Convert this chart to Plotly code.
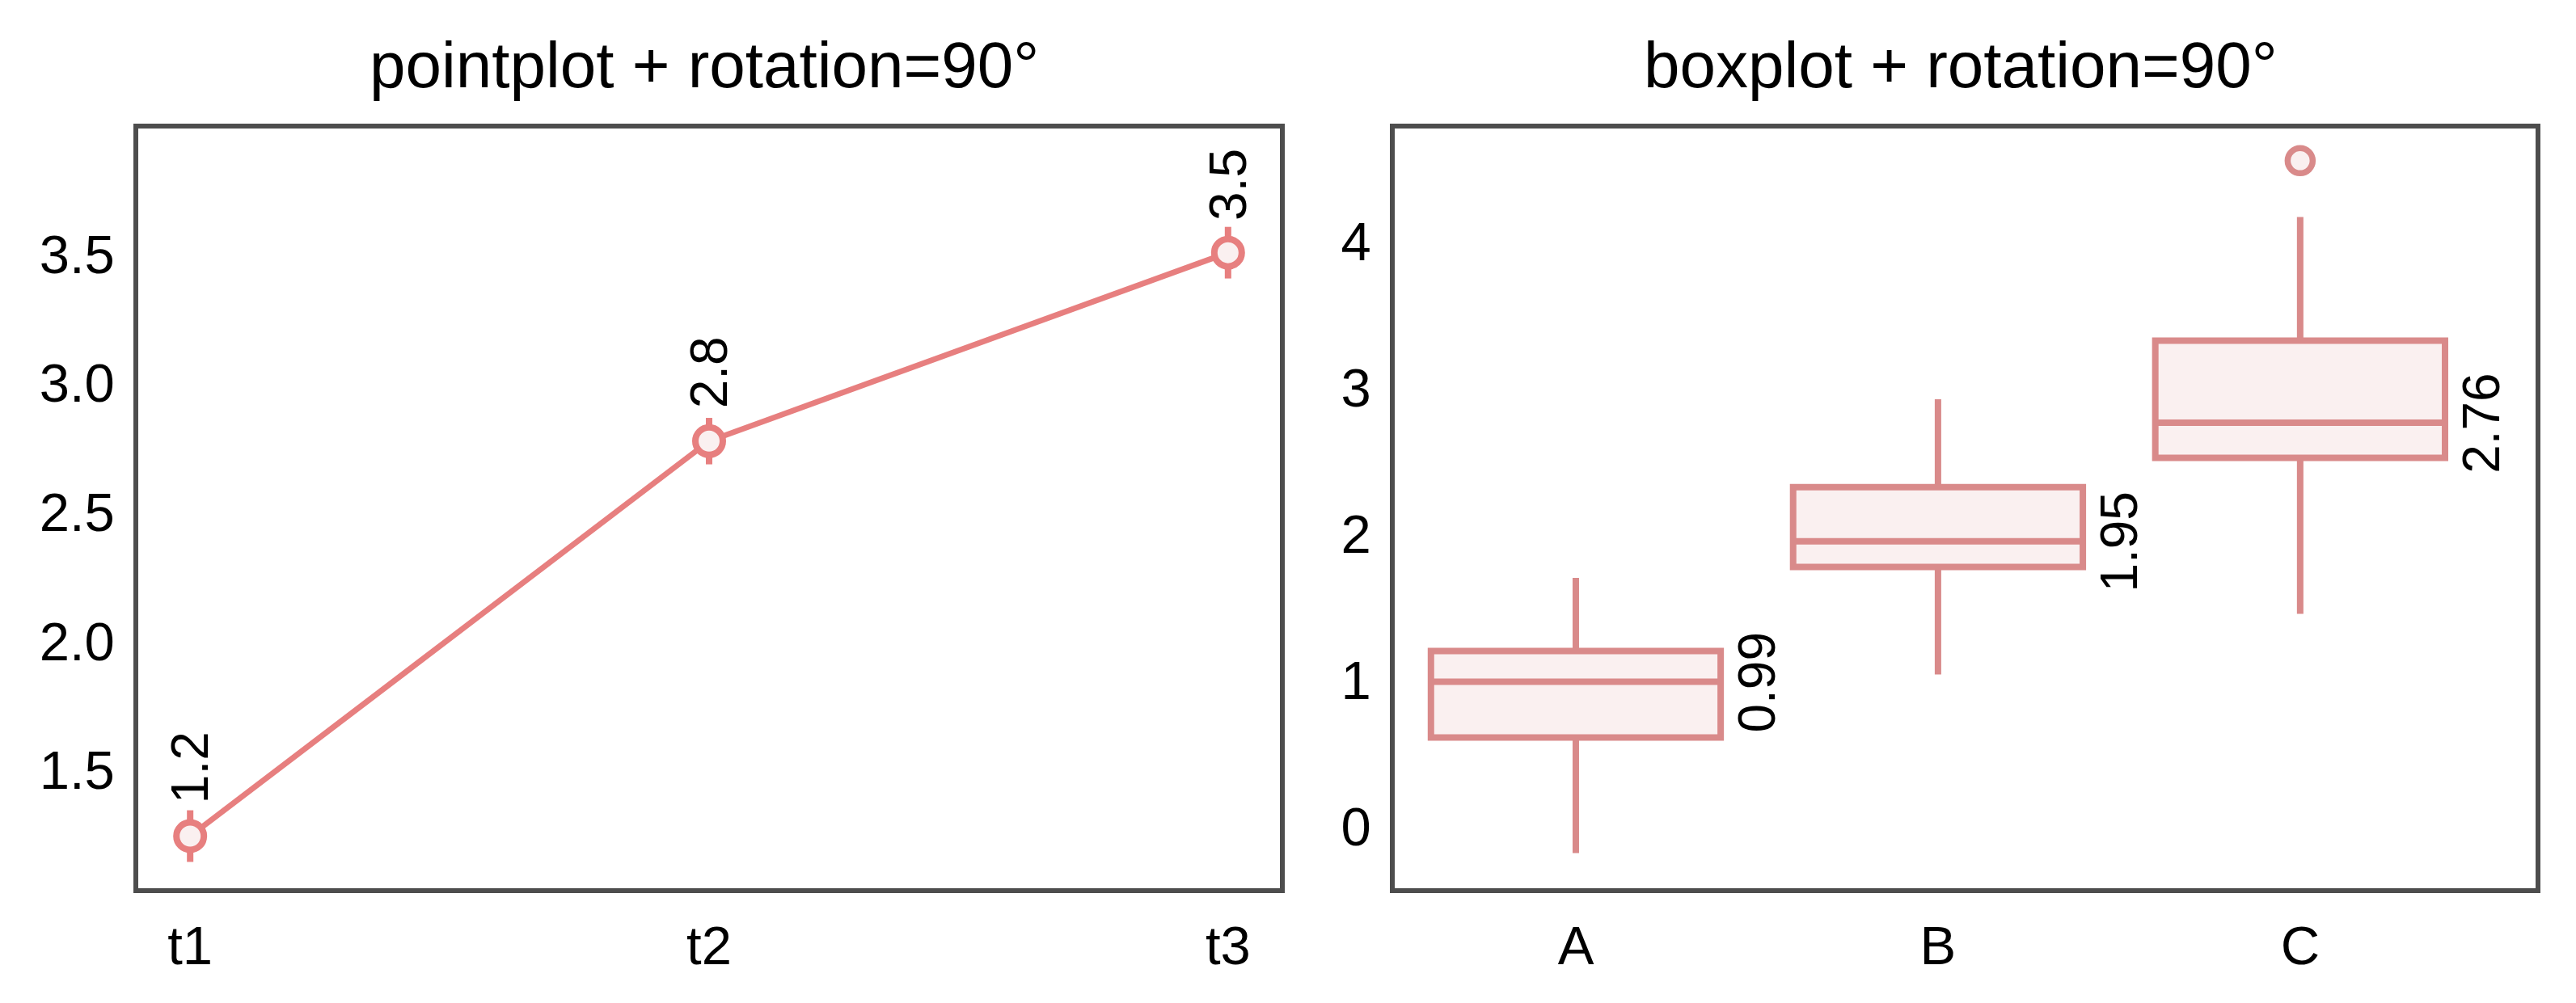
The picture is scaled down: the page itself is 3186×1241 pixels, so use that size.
import plotly.graph_objects as go

# ---------------- data ----------------
# left panel: pointplot
time_cats = ["t1", "t2", "t3"]
time_means = [1.245, 2.775, 3.505]
time_err = [0.10, 0.09, 0.10]

# right panel: boxplot (precomputed statistics)
groups = ["A", "B", "C"]
box_lower = [-0.18, 1.04, 1.455]
box_q1 = [0.61, 1.775, 2.52]
box_median = [0.99, 1.95, 2.76]
box_q3 = [1.20, 2.32, 3.32]
box_upper = [1.70, 2.92, 4.165]
outlier_group = ["C"]
outlier_value = [4.55]

left_ticks = [1.5, 2.0, 2.5, 3.0, 3.5]
right_ticks = [0, 1, 2, 3, 4]

# ---------------- style ----------------
# page body has an 8px default margin; compensate so the figure lines up
OFF = 8
W, H = 3186 - 2 * OFF, 1241 - 2 * OFF
FONT = "Liberation Sans, Arial, sans-serif"
POINT_COLOR = "#e77f7f"
BOX_COLOR = "#d98a8a"
FILL_COLOR = "#faf0f0"
FRAME = "#4d4d4d"
TICK_FS = 67
TITLE_FS = 80
LABEL_FS = 64


def px_x(p):
    return (p - OFF) / W


def px_y(p):
    return (H - (p - OFF)) / H


fig = go.Figure()

# pointplot
fig.add_trace(go.Scatter(
    x=time_cats, y=time_means,
    mode="lines+markers",
    line=dict(color=POINT_COLOR, width=7),
    marker=dict(size=34, color=FILL_COLOR, line=dict(color=POINT_COLOR, width=8)),
    error_y=dict(type="data", array=time_err, color=POINT_COLOR, thickness=8, width=0),
    xaxis="x", yaxis="y", showlegend=False,
))

# boxplot
fig.add_trace(go.Box(
    x=groups, q1=box_q1, median=box_median, q3=box_q3,
    lowerfence=box_lower, upperfence=box_upper,
    width=0.8, whiskerwidth=0,
    line=dict(color=BOX_COLOR, width=8),
    fillcolor=FILL_COLOR,
    boxpoints=False,
    xaxis="x2", yaxis="y2", showlegend=False,
))
fig.add_trace(go.Scatter(
    x=outlier_group, y=outlier_value, mode="markers",
    marker=dict(size=31, color=FILL_COLOR, line=dict(color=BOX_COLOR, width=7.5)),
    xaxis="x2", yaxis="y2", showlegend=False,
))

annotations = []
# value labels on pointplot
for c, v in zip(time_cats, time_means):
    annotations.append(dict(
        x=c, y=v, xref="x", yref="y", text=f"{v:.1f}",
        textangle=-90, showarrow=False, xanchor="center", yanchor="bottom",
        yshift=38, font=dict(size=LABEL_FS, color="black", family=FONT),
    ))
# median labels on boxplot
for i, (g, m) in enumerate(zip(groups, box_median)):
    annotations.append(dict(
        x=i + 0.5, y=m, xref="x2", yref="y2", text=f"{m:.2f}",
        textangle=-90, showarrow=False, xanchor="center", yanchor="middle",
        font=dict(size=LABEL_FS, color="black", family=FONT),
    ))

# subplot titles
dom1 = [px_x(171), px_x(1583)]
dom2 = [px_x(1725), px_x(3136)]
ydom = [px_y(1099), px_y(159)]
for dom, title in [(dom1, "pointplot + rotation=90°"), (dom2, "boxplot + rotation=90°")]:
    annotations.append(dict(
        x=(dom[0] + dom[1]) / 2, y=px_y(127), xref="paper", yref="paper",
        text=title, showarrow=False, xanchor="center", yanchor="bottom",
        xshift=-6,
        font=dict(size=TITLE_FS, color="black", family=FONT),
    ))

axis_common = dict(
    showline=True, mirror=True, linecolor=FRAME, linewidth=5.5,
    showgrid=False, zeroline=False, ticks="",
    tickfont=dict(size=TICK_FS, color="black", family=FONT),
)

fig.update_layout(
    width=W, height=H,
    margin=dict(l=0, r=0, t=0, b=0),
    paper_bgcolor="white", plot_bgcolor="white",
    font=dict(family=FONT, color="black"),
    xaxis=dict(domain=dom1, anchor="y", type="category", range=[-0.1, 2.1],
               ticklabelstandoff=8, **axis_common),
    yaxis=dict(domain=ydom, anchor="x", range=[1.043, 3.986],
               tickvals=left_ticks, ticktext=[f"{t:.1f}" for t in left_ticks],
               ticklabelstandoff=10, **axis_common),
    xaxis2=dict(domain=dom2, anchor="y2", type="category", range=[-0.5, 2.65],
                ticklabelstandoff=8, **axis_common),
    yaxis2=dict(domain=ydom, anchor="x2", range=[-0.42, 4.77],
                tickvals=right_ticks, ticktext=[str(t) for t in right_ticks],
                ticklabelstandoff=10, **axis_common),
    annotations=annotations,
)

fig.write_html("out.html")
